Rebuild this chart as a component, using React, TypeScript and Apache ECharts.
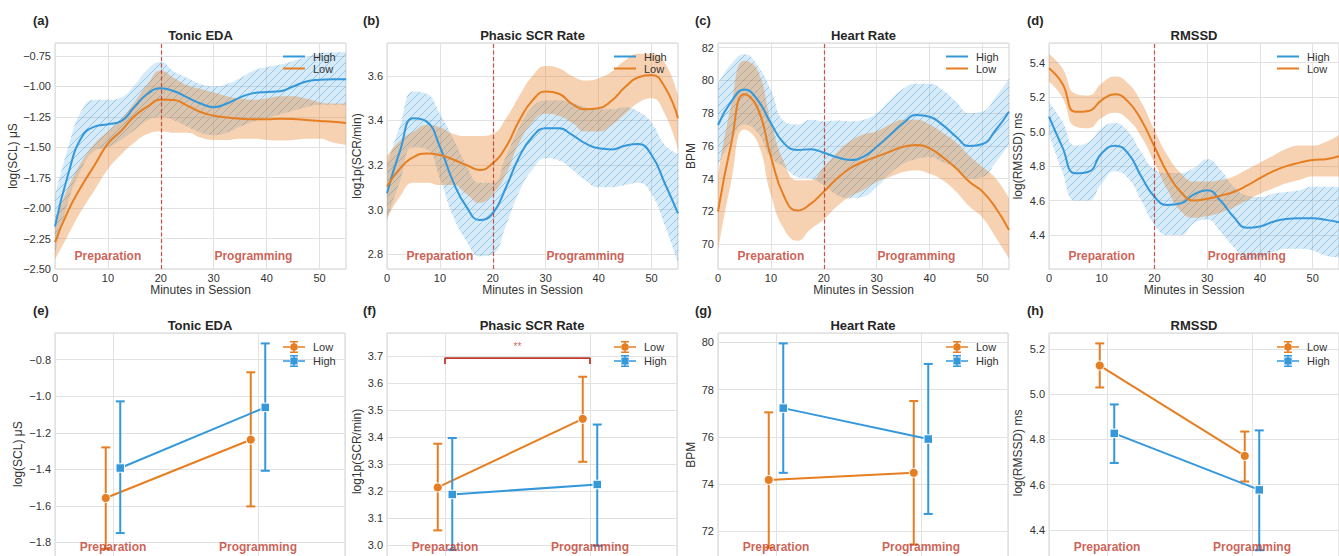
import React, { useEffect, useRef } from 'react';
import * as echarts from 'echarts';

const BLUE = '#3498db';
const ORANGE = '#e67e22';
const RED = '#c0392b';
const INK = '#333333';
const FONT = "'Liberation Sans', Arial, Helvetica, sans-serif";

// ---------- top row: time courses (minutes in session) ----------
const minutes = [0, 2.5, 5, 7.5, 10, 12.5, 15, 17.5, 20, 22.5, 25, 27.5, 30, 32.5, 35, 37.5, 40, 42.5, 45, 47.5, 50, 52.5, 55];

const edaHighMean = [-2.15, -1.72, -1.42, -1.33, -1.31, -1.285, -1.17, -1.06, -1.015, -1.04, -1.09, -1.14, -1.17, -1.14, -1.09, -1.055, -1.045, -1.04, -1.0, -0.96, -0.945, -0.94, -0.94];
const edaHighUpper = [-1.9, -1.5, -1.2, -1.11, -1.11, -1.09, -0.99, -0.86, -0.8, -0.88, -0.93, -0.98, -1.0, -0.98, -0.93, -0.87, -0.84, -0.82, -0.79, -0.76, -0.73, -0.72, -0.72];
const edaHighLower = [-2.38, -1.95, -1.68, -1.53, -1.5, -1.44, -1.36, -1.28, -1.25, -1.28, -1.33, -1.38, -1.4, -1.38, -1.33, -1.29, -1.26, -1.23, -1.2, -1.17, -1.15, -1.15, -1.15];
const edaLowMean = [-2.28, -2.02, -1.82, -1.645, -1.47, -1.365, -1.245, -1.165, -1.107, -1.112, -1.157, -1.21, -1.24, -1.255, -1.265, -1.27, -1.27, -1.265, -1.267, -1.275, -1.283, -1.29, -1.3];
const edaLowUpper = [-2.1, -1.83, -1.62, -1.47, -1.37, -1.27, -1.13, -0.98, -0.87, -0.93, -0.99, -1.02, -1.05, -1.08, -1.1, -1.11, -1.1, -1.08, -1.08, -1.1, -1.13, -1.14, -1.14];
const edaLowLower = [-2.42, -2.22, -2.02, -1.85, -1.68, -1.56, -1.46, -1.39, -1.37, -1.38, -1.38, -1.42, -1.44, -1.44, -1.43, -1.43, -1.44, -1.445, -1.44, -1.43, -1.43, -1.46, -1.48];

const scrHighMean = [3.073, 3.267, 3.41, 3.395, 3.282, 3.125, 3.013, 2.953, 2.983, 3.1, 3.237, 3.327, 3.365, 3.365, 3.335, 3.297, 3.275, 3.27, 3.287, 3.294, 3.245, 3.118, 2.983];
const scrHighUpper = [3.2, 3.38, 3.53, 3.52, 3.43, 3.32, 3.2, 3.12, 3.12, 3.24, 3.37, 3.46, 3.49, 3.49, 3.48, 3.46, 3.45, 3.45, 3.46, 3.44, 3.39, 3.29, 3.25];
const scrHighLower = [2.95, 3.13, 3.28, 3.27, 3.14, 2.97, 2.86, 2.79, 2.8, 2.93, 3.08, 3.18, 3.23, 3.22, 3.18, 3.13, 3.1, 3.1, 3.11, 3.12, 3.07, 2.93, 2.76];
const scrLowMean = [3.103, 3.185, 3.235, 3.252, 3.245, 3.225, 3.2, 3.178, 3.208, 3.282, 3.4, 3.49, 3.53, 3.52, 3.474, 3.45, 3.455, 3.49, 3.55, 3.594, 3.604, 3.55, 3.41];
const scrLowUpper = [3.24, 3.31, 3.35, 3.38, 3.37, 3.34, 3.33, 3.33, 3.34, 3.41, 3.51, 3.6, 3.645, 3.635, 3.6, 3.58, 3.59, 3.62, 3.67, 3.7, 3.7, 3.66, 3.51];
const scrLowLower = [2.96, 3.06, 3.12, 3.12, 3.11, 3.11, 3.07, 3.03, 3.07, 3.16, 3.3, 3.39, 3.43, 3.42, 3.39, 3.35, 3.35, 3.38, 3.43, 3.48, 3.5, 3.43, 3.27];

const hrHighMean = [77.27, 78.7, 79.45, 78.8, 77.38, 76.15, 75.75, 75.79, 75.58, 75.3, 75.14, 75.34, 75.95, 76.66, 77.38, 77.89, 77.78, 77.27, 76.56, 75.99, 76.11, 76.97, 78.09];
const hrHighUpper = [79.8, 81.0, 81.6, 80.9, 79.4, 77.5, 77.3, 77.6, 77.5, 77.55, 77.5, 77.6, 78.0, 78.8, 79.5, 79.8, 79.8, 79.4, 78.7, 78.0, 78.1, 79.0, 80.1];
const hrHighLower = [74.8, 76.3, 77.3, 76.8, 75.3, 74.7, 74.1, 74.0, 73.6, 73.0, 72.8, 72.9, 73.5, 74.3, 74.9, 75.2, 75.3, 75.0, 74.6, 74.0, 74.1, 75.0, 76.1];
const hrLowMean = [71.98, 76.15, 79.15, 78.3, 75.34, 72.9, 72.04, 72.45, 73.2, 74.0, 74.63, 75.03, 75.34, 75.65, 75.95, 76.05, 75.85, 75.3, 74.63, 73.8, 73.2, 72.2, 70.86];
const hrLowUpper = [74.2, 78.5, 81.2, 80.6, 77.5, 75.0, 73.9, 73.9, 74.7, 75.6, 76.3, 76.7, 76.9, 77.3, 77.6, 77.6, 77.3, 76.8, 76.2, 75.4, 74.7, 74.0, 72.8];
const hrLowLower = [69.6, 73.8, 77.0, 76.2, 73.0, 70.9, 70.2, 70.9, 71.5, 72.3, 72.9, 73.3, 73.8, 74.1, 74.4, 74.5, 74.3, 73.9, 73.2, 72.3, 71.6, 70.4, 69.1];

const rmHighMean = [5.087, 4.913, 4.758, 4.767, 4.874, 4.918, 4.874, 4.74, 4.622, 4.574, 4.584, 4.636, 4.66, 4.6, 4.506, 4.443, 4.45, 4.477, 4.493, 4.497, 4.497, 4.488, 4.474];
const rmHighUpper = [5.17, 5.06, 4.92, 4.94, 5.02, 5.05, 5.0, 4.88, 4.78, 4.76, 4.76, 4.79, 4.84, 4.78, 4.68, 4.63, 4.62, 4.64, 4.65, 4.66, 4.68, 4.68, 4.68];
const rmHighLower = [4.99, 4.77, 4.6, 4.6, 4.7, 4.77, 4.73, 4.6, 4.46, 4.4, 4.4, 4.47, 4.49, 4.42, 4.33, 4.26, 4.27, 4.3, 4.32, 4.32, 4.31, 4.28, 4.27];
const rmLowMean = [5.367, 5.28, 5.115, 5.12, 5.183, 5.216, 5.174, 5.067, 4.913, 4.758, 4.65, 4.6, 4.61, 4.628, 4.65, 4.686, 4.73, 4.77, 4.8, 4.82, 4.835, 4.84, 4.858];
const rmLowUpper = [5.45, 5.37, 5.22, 5.21, 5.28, 5.32, 5.28, 5.17, 5.01, 4.86, 4.76, 4.71, 4.71, 4.72, 4.74, 4.78, 4.82, 4.86, 4.9, 4.92, 4.92, 4.94, 4.98];
const rmLowLower = [5.29, 5.2, 5.03, 5.02, 5.08, 5.11, 5.07, 4.97, 4.82, 4.66, 4.54, 4.5, 4.51, 4.53, 4.56, 4.6, 4.64, 4.67, 4.7, 4.72, 4.74, 4.74, 4.74];

const sessionSplit = 20;
const phaseNames = ['Preparation', 'Programming'];
const phaseMinutes = [10, 37.5];

// ---------- bottom row: phase means with 95% CI ----------
const edaLowPt = [-1.557, -1.238];
const edaLowCiLo = [-1.835, -1.603];
const edaLowCiHi = [-1.28, -0.869];
const edaHighPt = [-1.393, -1.061];
const edaHighCiLo = [-1.749, -1.408];
const edaHighCiHi = [-1.028, -0.711];

const scrLowPt = [3.215, 3.469];
const scrLowCiLo = [3.056, 3.31];
const scrLowCiHi = [3.377, 3.625];
const scrHighPt = [3.189, 3.226];
const scrHighCiLo = [2.984, 2.999];
const scrHighCiHi = [3.398, 3.448];

const hrLowPt = [74.18, 74.48];
const hrLowCiLo = [71.32, 71.45];
const hrLowCiHi = [77.04, 77.52];
const hrHighPt = [77.22, 75.91];
const hrHighCiLo = [74.48, 72.74];
const hrHighCiHi = [79.96, 79.09];

const rmLowPt = [5.127, 4.727];
const rmLowCiLo = [5.03, 4.614];
const rmLowCiHi = [5.225, 4.835];
const rmHighPt = [4.827, 4.577];
const rmHighCiLo = [4.696, 4.31];
const rmHighCiHi = [4.955, 4.84];

const sigBracketY = [3.672, 3.694];
const sigText = '**';
const sigTextY = 3.737;

const panelTitles = ['Tonic EDA', 'Phasic SCR Rate', 'Heart Rate', 'RMSSD'];
const yNames = ['log(SCL) μS', 'log1p(SCR/min)', 'BPM', 'log(RMSSD) ms'];
const topLetters = ['(a)', '(b)', '(c)', '(d)'];
const bottomLetters = ['(e)', '(f)', '(g)', '(h)'];

// ---------- layout ----------
const panelLeft = [55, 387, 718, 1049];
const panelWidth = [291, 291, 291, 290];
const letterX = [33, 363, 695, 1027];
const legendX = [283, 614, 946, 1277];
const TOP_Y = 43;
const TOP_H = 226;
const BOT_Y = 333;

const topAxes = [
  { min: -2.5, max: -0.643, step: 0.25, dec: 2, gap: 35 },
  { min: 2.733, max: 3.748, step: 0.2, dec: 1, gap: 24 },
  { min: 68.47, max: 82.29, step: 2, dec: 0, gap: 21 },
  { min: 4.203, max: 5.514, step: 0.2, dec: 1, gap: 25 },
];
// bottom axes run past the picture's lower edge (cut off as in the reference)
const botAxes = [
  { min: -1.98, max: -0.654, step: 0.2, dec: 1, gap: 31, h: 242.3 },
  { min: 2.91, max: 3.787, step: 0.1, dec: 1, gap: 24, h: 236.8 },
  { min: 70.1, max: 80.4, step: 2, dec: 0, gap: 21, h: 243.3 },
  { min: 4.21, max: 5.271, step: 0.2, dec: 1, gap: 25, h: 239.8 },
];

const topData = [
  { hi: [edaHighMean, edaHighLower, edaHighUpper], lo: [edaLowMean, edaLowLower, edaLowUpper] },
  { hi: [scrHighMean, scrHighLower, scrHighUpper], lo: [scrLowMean, scrLowLower, scrLowUpper] },
  { hi: [hrHighMean, hrHighLower, hrHighUpper], lo: [hrLowMean, hrLowLower, hrLowUpper] },
  { hi: [rmHighMean, rmHighLower, rmHighUpper], lo: [rmLowMean, rmLowLower, rmLowUpper] },
];
const botData = [
  { lo: [edaLowPt, edaLowCiLo, edaLowCiHi], hi: [edaHighPt, edaHighCiLo, edaHighCiHi] },
  { lo: [scrLowPt, scrLowCiLo, scrLowCiHi], hi: [scrHighPt, scrHighCiLo, scrHighCiHi] },
  { lo: [hrLowPt, hrLowCiLo, hrLowCiHi], hi: [hrHighPt, hrHighCiLo, hrHighCiHi] },
  { lo: [rmLowPt, rmLowCiLo, rmLowCiHi], hi: [rmHighPt, rmHighCiLo, rmHighCiHi] },
];

const LINE_ICON = 'path://M0 0H22V2H0Z';
const CIRCLE_ICON =
  'path://M0 5.2H7V6.8H0Z M15 5.2H22V6.8H15Z M10.25 0H11.75V12H10.25Z M7 0H15V1.5H7Z M7 10.5H15V12H7Z M7.2 6A3.8 3.8 0 1 1 14.8 6A3.8 3.8 0 1 1 7.2 6Z';
const SQUARE_ICON =
  'path://M0 5.2H7V6.8H0Z M15 5.2H22V6.8H15Z M10.25 0H11.75V12H10.25Z M7 0H15V1.5H7Z M7 10.5H15V12H7Z M7.4 2.4H14.6V9.6H7.4Z';

const tickFmt = (step: number, dec: number) => (v: number) => {
  const k = v / step;
  if (Math.abs(k - Math.round(k)) > 1e-6) return '';
  return v.toFixed(dec).replace('-', '\u2212');
};

function makeHatch(): HTMLCanvasElement {
  const c = document.createElement('canvas');
  c.width = 8;
  c.height = 8;
  const ctx = c.getContext('2d')!;
  ctx.fillStyle = 'rgba(52,152,219,0.2)';
  ctx.fillRect(0, 0, 8, 8);
  ctx.strokeStyle = 'rgba(52,152,219,0.42)';
  ctx.lineWidth = 1;
  ctx.beginPath();
  ctx.moveTo(0, 8);
  ctx.lineTo(8, 0);
  ctx.moveTo(-1, 1);
  ctx.lineTo(1, -1);
  ctx.moveTo(7, 9);
  ctx.lineTo(9, 7);
  ctx.stroke();
  return c;
}

function buildOption(hatch: HTMLCanvasElement) {
  const grid: any[] = [];
  const xAxis: any[] = [];
  const yAxis: any[] = [];
  const series: any[] = [];
  const legend: any[] = [];
  const graphic: any[] = [];

  const axisLabelStyle = { fontSize: 11, color: INK, fontFamily: FONT };
  const splitLine = { show: true, lineStyle: { color: '#e2e2e2', width: 1 } };
  const minuteCats = minutes.map(String);

  // top row
  for (let i = 0; i < 4; i++) {
    const ax = topAxes[i];
    grid.push({
      left: panelLeft[i], top: TOP_Y, width: panelWidth[i], height: TOP_H,
      show: true, borderColor: '#d2d2d2', borderWidth: 1, outerBoundsMode: 'none', containLabel: false,
    });
    xAxis.push({
      type: 'category', gridIndex: i, data: minuteCats, boundaryGap: false,
      axisLine: { show: false }, axisTick: { show: false },
      splitLine: { ...splitLine, interval: 3 },
      axisLabel: { ...axisLabelStyle, margin: 3, interval: 3 },
      name: 'Minutes in Session', nameLocation: 'middle', nameGap: 15,
      nameTextStyle: { fontSize: 12, color: INK, fontFamily: FONT },
    });
    yAxis.push({
      type: 'value', gridIndex: i, min: ax.min, max: ax.max, minInterval: ax.step, maxInterval: ax.step,
      axisLine: { show: false }, axisTick: { show: false }, splitLine,
      axisLabel: { ...axisLabelStyle, margin: 4, formatter: tickFmt(ax.step, ax.dec) },
      name: yNames[i], nameLocation: 'middle', nameGap: ax.gap,
      nameTextStyle: { fontSize: 12, color: INK, fontFamily: FONT },
    });

    const d = topData[i];
    const band = (key: string, lower: number[], upper: number[], color: any, z: number) => [
      {
        name: key + ' lo', type: 'line', xAxisIndex: i, yAxisIndex: i, stack: key + i, stackStrategy: 'all',
        data: lower.slice(), symbol: 'none', smooth: true,
        lineStyle: { width: 0, opacity: 0 }, silent: true, z,
      },
      {
        name: key + ' band', type: 'line', xAxisIndex: i, yAxisIndex: i, stack: key + i, stackStrategy: 'all',
        data: upper.map((u, k) => u - lower[k]), symbol: 'none', smooth: true,
        lineStyle: { width: 0, opacity: 0 }, areaStyle: { color, opacity: 1 }, silent: true, z,
      },
    ];
    series.push(...band('High CI', d.hi[1], d.hi[2], { image: hatch, repeat: 'repeat', imageWidth: 8, imageHeight: 8 }, 1));
    series.push(...band('Low CI', d.lo[1], d.lo[2], 'rgba(230,126,34,0.35)', 2));
    series.push({
      name: 'High', type: 'line', xAxisIndex: i, yAxisIndex: i, data: d.hi[0].slice(),
      symbol: 'none', smooth: true, lineStyle: { color: BLUE, width: 2 }, itemStyle: { color: BLUE }, z: 3,
      markLine: {
        silent: true, symbol: ['none', 'none'], label: { show: false },
        lineStyle: { color: RED, type: [4, 2.5], width: 1.2, opacity: 0.85 },
        data: [{ xAxis: String(sessionSplit) }],
      },
    });
    series.push({
      name: 'Low', type: 'line', xAxisIndex: i, yAxisIndex: i, data: d.lo[0].slice(),
      symbol: 'none', smooth: true, lineStyle: { color: ORANGE, width: 2 }, itemStyle: { color: ORANGE }, z: 4,
    });
    const labY = ax.min + (ax.max - ax.min) * (13 / TOP_H);
    series.push({
      name: 'phase' + i, type: 'scatter', xAxisIndex: i, yAxisIndex: i, silent: true, z: 6,
      data: phaseNames.map((n, k) => ({ name: n, value: [String(phaseMinutes[k]), labY] })),
      symbolSize: 1, itemStyle: { color: 'rgba(0,0,0,0)' },
      label: { show: true, position: 'inside', formatter: '{b}', color: RED, fontSize: 12, fontWeight: 'bold', fontFamily: FONT },
    });
    legend.push({
      left: legendX[i], top: 51, orient: 'vertical', itemWidth: 22, itemHeight: 14, itemGap: 1, padding: 0,
      selectedMode: false, itemStyle: { borderWidth: 0 },
      data: [{ name: 'High', icon: LINE_ICON }, { name: 'Low', icon: LINE_ICON }],
      textStyle: { fontSize: 11, color: INK, fontFamily: FONT, padding: [0, 0, 0, 3] },
    });
    graphic.push({
      type: 'text', x: panelLeft[i] + panelWidth[i] / 2, y: 35, silent: true,
      style: { text: panelTitles[i], fontSize: 13, fontWeight: 'bold', fontFamily: FONT, fill: '#262626', align: 'center', verticalAlign: 'middle' },
    });
    graphic.push({
      type: 'text', x: letterX[i], y: 20, silent: true,
      style: { text: topLetters[i], fontSize: 13, fontWeight: 'bold', fontFamily: FONT, fill: '#262626', align: 'left', verticalAlign: 'middle' },
    });
  }

  // bottom row
  for (let j = 0; j < 4; j++) {
    const gi = 4 + j;
    const ax = botAxes[j];
    grid.push({
      left: panelLeft[j], top: BOT_Y, width: 290, height: ax.h,
      show: true, borderColor: '#d2d2d2', borderWidth: 1, outerBoundsMode: 'none', containLabel: false,
    });
    xAxis.push({
      type: 'value', gridIndex: gi, min: -0.4, max: 1.6, minInterval: 1, maxInterval: 1,
      axisLine: { show: false }, axisTick: { show: false }, splitLine, axisLabel: { show: false },
    });
    yAxis.push({
      type: 'value', gridIndex: gi, min: ax.min, max: ax.max, minInterval: ax.step, maxInterval: ax.step,
      axisLine: { show: false }, axisTick: { show: false }, splitLine,
      axisLabel: { ...axisLabelStyle, margin: 4, formatter: tickFmt(ax.step, ax.dec) },
      name: yNames[j], nameLocation: 'middle', nameGap: ax.gap,
      nameTextStyle: { fontSize: 12, color: INK, fontFamily: FONT },
    });
    const d = botData[j];
    const groups = [
      { name: 'Low ', vals: d.lo, color: ORANGE, dx: -0.05, symbol: 'circle', size: 9 },
      { name: 'High ', vals: d.hi, color: BLUE, dx: 0.05, symbol: 'rect', size: 8.5 },
    ];
    groups.forEach((g, gk) => {
      const xs = phaseNames.map((_, k) => k + g.dx);
      series.push({
        name: g.name.trim() + ' CI' + j, type: 'custom', xAxisIndex: gi, yAxisIndex: gi, silent: true, z: 3 + gk * 2,
        data: xs.map((x, k) => [x, g.vals[1][k], g.vals[2][k]]),
        encode: { x: 0, y: [1, 2] },
        renderItem: (_p: any, api: any) => {
          const x = api.value(0);
          const a = api.coord([x, api.value(1)]);
          const b = api.coord([x, api.value(2)]);
          const hw = 4.5;
          const style = { stroke: g.color, lineWidth: 2, fill: 'none' };
          return {
            type: 'group',
            children: [
              { type: 'line', shape: { x1: a[0], y1: a[1], x2: b[0], y2: b[1] }, style },
              { type: 'line', shape: { x1: a[0] - hw, y1: a[1], x2: a[0] + hw, y2: a[1] }, style },
              { type: 'line', shape: { x1: b[0] - hw, y1: b[1], x2: b[0] + hw, y2: b[1] }, style },
            ],
          };
        },
      });
      series.push({
        name: g.name, type: 'line', xAxisIndex: gi, yAxisIndex: gi, z: 4 + gk * 2,
        data: xs.map((x, k) => [x, g.vals[0][k]]),
        symbol: g.symbol, symbolSize: g.size, showSymbol: true,
        lineStyle: { color: g.color, width: 2 },
        itemStyle: { color: g.color, borderColor: '#ffffff', borderWidth: 1 },
      });
    });
    const labY = ax.max - (546.7 - BOT_Y) * ((ax.max - ax.min) / ax.h);
    series.push({
      name: 'bphase' + j, type: 'scatter', xAxisIndex: gi, yAxisIndex: gi, silent: true, z: 9,
      data: phaseNames.map((n, k) => ({ name: n, value: [k, labY] })),
      symbolSize: 1, itemStyle: { color: 'rgba(0,0,0,0)' },
      label: { show: true, position: 'inside', formatter: '{b}', color: RED, fontSize: 12, fontWeight: 'bold', fontFamily: FONT },
    });
    if (j === 1) {
      series.push({
        name: 'sig', type: 'line', xAxisIndex: gi, yAxisIndex: gi, silent: true, z: 8,
        data: [[0, sigBracketY[0]], [0, sigBracketY[1]], [1, sigBracketY[1]], [1, sigBracketY[0]]],
        symbol: 'none', lineStyle: { color: RED, width: 1.8 },
      });
      series.push({
        name: 'sigtext', type: 'scatter', xAxisIndex: gi, yAxisIndex: gi, silent: true, z: 8,
        data: [{ name: sigText, value: [0.5, sigTextY] }],
        symbolSize: 1, itemStyle: { color: 'rgba(0,0,0,0)' },
        label: { show: true, position: 'inside', formatter: '{b}', color: RED, fontSize: 10, fontFamily: FONT },
      });
    }
    legend.push({
      left: legendX[j], top: 341, orient: 'vertical', itemWidth: 22, itemHeight: 14, itemGap: 2, padding: 0,
      selectedMode: false, itemStyle: { borderWidth: 0 },
      data: [{ name: 'Low ', icon: CIRCLE_ICON }, { name: 'High ', icon: SQUARE_ICON }],
      formatter: (n: string) => n.trim(),
      textStyle: { fontSize: 11, color: INK, fontFamily: FONT, padding: [0, 0, 0, 3] },
    });
    graphic.push({
      type: 'text', x: panelLeft[j] + 145, y: 325, silent: true,
      style: { text: panelTitles[j], fontSize: 13, fontWeight: 'bold', fontFamily: FONT, fill: '#262626', align: 'center', verticalAlign: 'middle' },
    });
    graphic.push({
      type: 'text', x: letterX[j], y: 310, silent: true,
      style: { text: bottomLetters[j], fontSize: 13, fontWeight: 'bold', fontFamily: FONT, fill: '#262626', align: 'left', verticalAlign: 'middle' },
    });
  }

  return {
    animation: false,
    backgroundColor: '#ffffff',
    textStyle: { fontFamily: FONT },
    grid, xAxis, yAxis, series, legend, graphic,
  };
}

export default function App() {
  const ref = useRef<HTMLDivElement>(null);
  useEffect(() => {
    document.body.style.margin = '0';
    if (!ref.current) return;
    const chart = echarts.init(ref.current, undefined, { renderer: 'svg' });
    chart.setOption(buildOption(makeHatch()) as any);
    return () => chart.dispose();
  }, []);
  return <div ref={ref} style={{ width: 1339, height: 556 }} />;
}
